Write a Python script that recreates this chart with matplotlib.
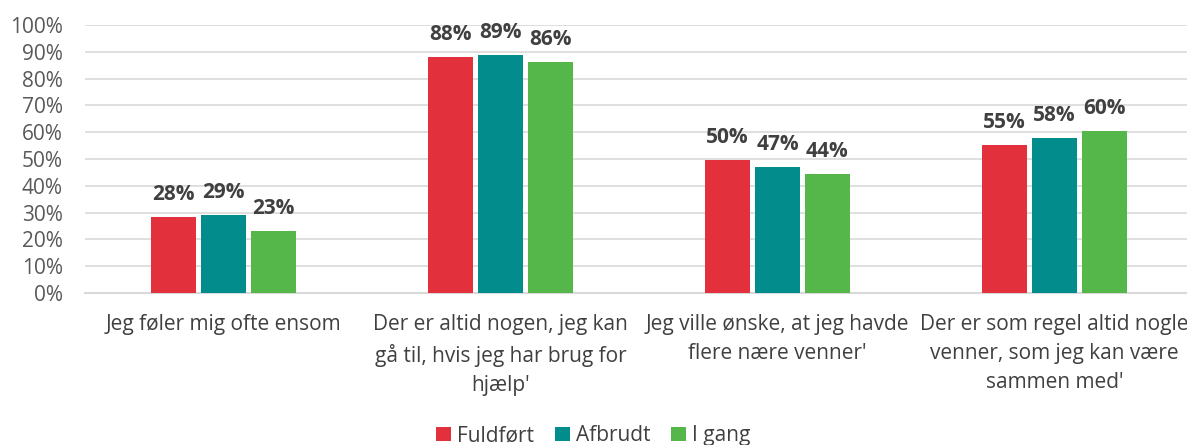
import numpy as np
import matplotlib.pyplot as plt
from matplotlib.ticker import PercentFormatter

plt.rcParams['font.family'] = ['Open Sans', 'DejaVu Sans']

categories = ["Jeg føler mig ofte ensom",
              "Der er altid nogen, jeg kan\ngå til, hvis jeg har brug for\nhjælp'",
              "Jeg ville ønske, at jeg havde\nflere nære venner'",
              "Der er som regel altid nogle\nvenner, som jeg kan være\nsammen med'"]
fuldfoert = [28.4, 88.1, 49.6, 55.2]
afbrudt = [29.1, 88.8, 47.0, 57.8]
i_gang = [23.1, 86.2, 44.4, 60.4]
series = ["Fuldført", "Afbrudt", "I gang"]
colors = ["#E2303D", "#038C8C", "#55B74A"]

fig = plt.figure(figsize=(11.87, 4.45), dpi=100)
ax = fig.add_axes([85 / 1187, (445 - 293) / 445, 1108 / 1187, 268 / 445])

x = np.arange(len(categories))
w = 0.16
step = 0.18
for i, (vals, name, c) in enumerate(zip([fuldfoert, afbrudt, i_gang], series, colors)):
    pos = x + (i - 1) * step
    ax.bar(pos, vals, width=w, color=c, label=name, zorder=3)
    for p, v in zip(pos, vals):
        ax.text(p, v + 4.5, f"{v:.0f}%", ha='center', va='bottom', fontsize=15,
                fontweight='bold', color='#404040')

ax.set_xlim(-0.5, 3.5)
ax.set_ylim(0, 100)
ax.set_yticks(range(0, 101, 10))
ax.yaxis.set_major_formatter(PercentFormatter(decimals=0))
ax.set_xticks(x)
ax.set_xticklabels(categories, fontsize=15, color='#404040', linespacing=1.5)
ax.tick_params(axis='y', labelsize=15, labelcolor='#595959', length=0, pad=16)
ax.tick_params(axis='x', length=0, pad=15)
ax.grid(axis='y', color='#D9D9D9', linewidth=1.2, zorder=0)
for s in ['top', 'right', 'left']:
    ax.spines[s].set_visible(False)
ax.spines['bottom'].set_color('#D9D9D9')
ax.spines['bottom'].set_linewidth(1.5)

fig.legend(loc='lower center', bbox_to_anchor=(0.5, -0.045), ncol=3, frameon=False,
           fontsize=15, handlelength=0.7, handleheight=0.7, handletextpad=0.3,
           columnspacing=1.0, labelcolor='#404040')

fig.savefig('out.png', dpi=100)
